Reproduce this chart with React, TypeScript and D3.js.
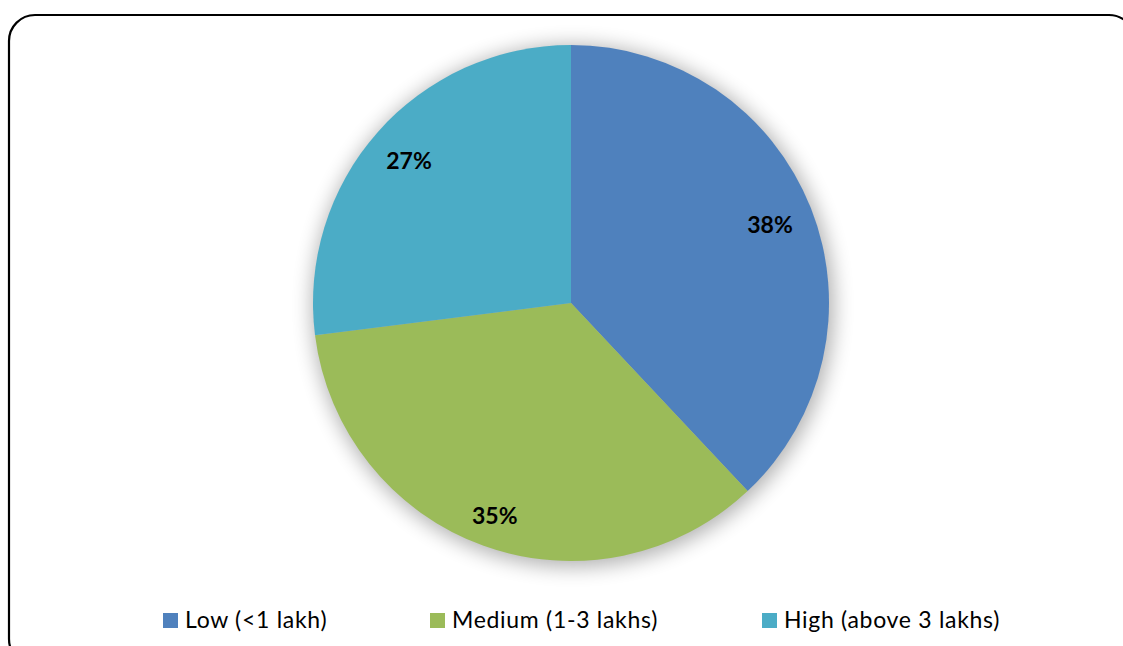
import React from "react";
import * as d3 from "d3";

const categories = ["Low (<1 lakh)", "Medium (1-3 lakhs)", "High (above 3 lakhs)"];
const values = [38, 35, 27];
const colors = ["#4F81BD", "#9BBB59", "#4BACC6"];
const legendX = [163, 430, 762];

export default function App() {
  const W = 1123, H = 646;
  const cx = 571, cy = 303, r = 258;
  const pie = d3.pie<number>().sort(null).value((d) => d);
  const arcs = pie(values);
  const arc = d3.arc<d3.PieArcDatum<number>>().innerRadius(0).outerRadius(r);
  const labelR = [214, 225, 216];
  const total = d3.sum(values);
  const font = "Lato, 'Open Sans', sans-serif";
  return (
    <svg width={W} height={H} style={{ position: "absolute", left: 0, top: 0 }}>
      <defs>
        <filter id="sh" x="-20%" y="-20%" width="140%" height="140%">
          <feGaussianBlur stdDeviation="10" />
        </filter>
      </defs>
      <rect x={0} y={0} width={W} height={H} fill="#fff" />
      <rect x={9} y={15} width={1126} height={650} rx={26} ry={26} fill="#fff" stroke="#000" strokeWidth={2.2} />
      <circle cx={cx + 2} cy={cy + 3} r={r + 3} fill="#000" opacity={0.3} filter="url(#sh)" />
      <g transform={`translate(${cx},${cy})`}>
        {arcs.map((a, i) => (
          <path key={i} d={arc(a) || ""} fill={colors[i]} />
        ))}
        {arcs.map((a, i) => {
          const la = d3.arc<d3.PieArcDatum<number>>().innerRadius(labelR[i]).outerRadius(labelR[i]);
          const [x, y] = la.centroid(a);
          return (
            <text key={"l" + i} x={x} y={y} textAnchor="middle" dominantBaseline="central"
              fontFamily={font} fontWeight="bold" fontSize={23} fill="#000">
              {Math.round((values[i] / total) * 100)}%
            </text>
          );
        })}
      </g>
      {categories.map((c, i) => (
        <g key={"lg" + i}>
          <rect x={legendX[i]} y={613} width={15} height={15} fill={colors[i]} />
          <text x={legendX[i] + 22} y={628} fontFamily={font} fontSize={23} letterSpacing={0.7} fill="#000">{c}</text>
        </g>
      ))}
    </svg>
  );
}
